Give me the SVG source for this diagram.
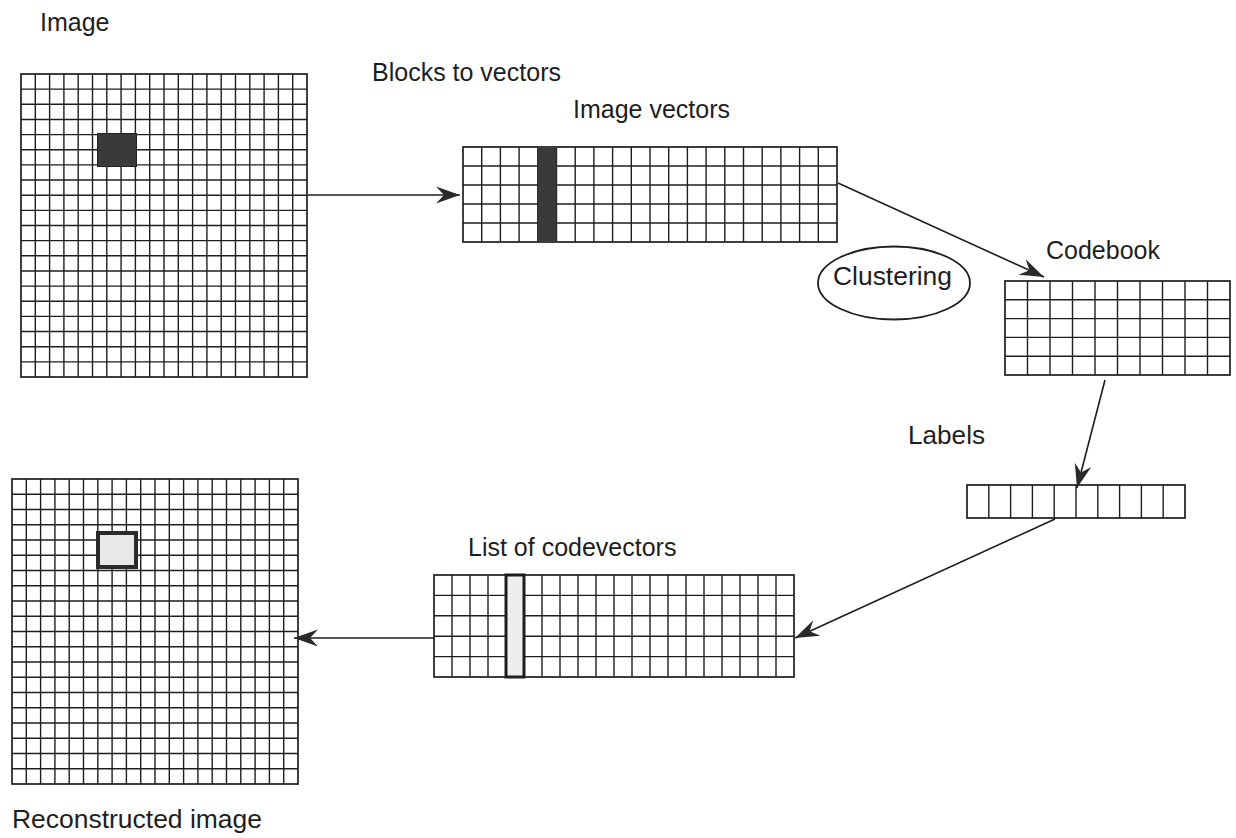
<svg xmlns="http://www.w3.org/2000/svg" width="1236" height="838" viewBox="0 0 1236 838">
<style>
  .bg { fill: #ffffff; }
  .grid { fill: none; stroke: #1e1e1e; stroke-width: 1.4; }
  .frame { fill: none; stroke: #1e1e1e; stroke-width: 1.7; }
  .lbl { font-family: "Liberation Sans", Arial, sans-serif; font-size: 25px; fill: #1e1e1e; }
  .conn { fill: none; stroke: #1e1e1e; stroke-width: 1.6; }
  .ell { fill: none; stroke: #1e1e1e; stroke-width: 1.8; }
</style>
<defs>
  <marker id="arr" markerUnits="userSpaceOnUse" orient="auto" refX="0" refY="0" markerWidth="30" markerHeight="30" overflow="visible">
    <path d="M0,0 L-24,-8.5 L-16,0 L-24,8.5 Z" fill="#2a2a2a"/>
  </marker>
</defs>
<rect class="bg" x="0" y="0" width="1236" height="838"/>

<g id="image">
  <text class="lbl" x="40" y="31">Image</text>
  <rect class="frame" x="21" y="74" width="286" height="303"/>
  <path class="grid" d="M35.3,74 v303 m14.3,-303 v303 m14.3,-303 v303 m14.3,-303 v303 m14.3,-303 v303 m14.3,-303 v303 m14.3,-303 v303 m14.3,-303 v303 m14.3,-303 v303 m14.3,-303 v303 m14.3,-303 v303 m14.3,-303 v303 m14.3,-303 v303 m14.3,-303 v303 m14.3,-303 v303 m14.3,-303 v303 m14.3,-303 v303 m14.3,-303 v303 m14.3,-303 v303"/>
  <path class="grid" d="M21,89.15 h286 m-286,15.15 h286 m-286,15.15 h286 m-286,15.15 h286 m-286,15.15 h286 m-286,15.15 h286 m-286,15.15 h286 m-286,15.15 h286 m-286,15.15 h286 m-286,15.15 h286 m-286,15.15 h286 m-286,15.15 h286 m-286,15.15 h286 m-286,15.15 h286 m-286,15.15 h286 m-286,15.15 h286 m-286,15.15 h286 m-286,15.15 h286 m-286,15.15 h286"/>
  <rect x="97.5" y="133.5" width="39" height="33" fill="#3a3a3a" stroke="#222" stroke-width="1"/>
</g>

<g id="image-vectors">
  <text class="lbl" x="573" y="118">Image vectors</text>
  <rect class="frame" x="463" y="147" width="374" height="95"/>
  <path class="grid" d="M481.7,147 v95 m18.7,-95 v95 m18.7,-95 v95 m18.7,-95 v95 m18.7,-95 v95 m18.7,-95 v95 m18.7,-95 v95 m18.7,-95 v95 m18.7,-95 v95 m18.7,-95 v95 m18.7,-95 v95 m18.7,-95 v95 m18.7,-95 v95 m18.7,-95 v95 m18.7,-95 v95 m18.7,-95 v95 m18.7,-95 v95 m18.7,-95 v95 m18.7,-95 v95"/>
  <path class="grid" d="M463,166 h374 m-374,19 h374 m-374,19 h374 m-374,19 h374"/>
  <rect x="537.8" y="147" width="18.7" height="95" fill="#3a3a3a"/>
</g>

<g id="blocks-label">
  <text class="lbl" x="372" y="81">Blocks to vectors</text>
</g>

<g id="clustering">
  <ellipse class="ell" cx="894" cy="283" rx="76" ry="36.5"/>
  <text class="lbl" x="833" y="285" textLength="119" lengthAdjust="spacingAndGlyphs">Clustering</text>
</g>

<g id="codebook">
  <text class="lbl" x="1046" y="259">Codebook</text>
  <rect class="frame" x="1005" y="281" width="225" height="94"/>
  <path class="grid" d="M1027.5,281 v94 m22.5,-94 v94 m22.5,-94 v94 m22.5,-94 v94 m22.5,-94 v94 m22.5,-94 v94 m22.5,-94 v94 m22.5,-94 v94 m22.5,-94 v94"/>
  <path class="grid" d="M1005,299.8 h225 m-225,18.8 h225 m-225,18.8 h225 m-225,18.8 h225"/>
</g>

<g id="labels">
  <text class="lbl" x="908" y="444" textLength="77" lengthAdjust="spacingAndGlyphs">Labels</text>
  <rect class="frame" x="967" y="485" width="218" height="33"/>
  <path class="grid" d="M988.8,485 v33 m21.8,-33 v33 m21.8,-33 v33 m21.8,-33 v33 m21.8,-33 v33 m21.8,-33 v33 m21.8,-33 v33 m21.8,-33 v33 m21.8,-33 v33"/>
</g>

<g id="codevectors">
  <text class="lbl" x="468" y="556">List of codevectors</text>
  <rect class="frame" x="434" y="575" width="360" height="102"/>
  <path class="grid" d="M452,575 v102 m18,-102 v102 m18,-102 v102 m18,-102 v102 m18,-102 v102 m18,-102 v102 m18,-102 v102 m18,-102 v102 m18,-102 v102 m18,-102 v102 m18,-102 v102 m18,-102 v102 m18,-102 v102 m18,-102 v102 m18,-102 v102 m18,-102 v102 m18,-102 v102 m18,-102 v102 m18,-102 v102"/>
  <path class="grid" d="M434,595.4 h360 m-360,20.4 h360 m-360,20.4 h360 m-360,20.4 h360"/>
  <rect x="506" y="575" width="18" height="102" fill="#eeeeee" stroke="#1e1e1e" stroke-width="3"/>
</g>

<g id="reconstructed">
  <rect class="frame" x="12" y="479" width="286" height="305"/>
  <path class="grid" d="M26.3,479 v305 m14.3,-305 v305 m14.3,-305 v305 m14.3,-305 v305 m14.3,-305 v305 m14.3,-305 v305 m14.3,-305 v305 m14.3,-305 v305 m14.3,-305 v305 m14.3,-305 v305 m14.3,-305 v305 m14.3,-305 v305 m14.3,-305 v305 m14.3,-305 v305 m14.3,-305 v305 m14.3,-305 v305 m14.3,-305 v305 m14.3,-305 v305 m14.3,-305 v305"/>
  <path class="grid" d="M12,494.25 h286 m-286,15.25 h286 m-286,15.25 h286 m-286,15.25 h286 m-286,15.25 h286 m-286,15.25 h286 m-286,15.25 h286 m-286,15.25 h286 m-286,15.25 h286 m-286,15.25 h286 m-286,15.25 h286 m-286,15.25 h286 m-286,15.25 h286 m-286,15.25 h286 m-286,15.25 h286 m-286,15.25 h286 m-286,15.25 h286 m-286,15.25 h286 m-286,15.25 h286"/>
  <rect x="98" y="533" width="38" height="34" fill="#e8e8e8" stroke="#2a2a2a" stroke-width="4"/>
  <text class="lbl" x="12" y="828" textLength="250" lengthAdjust="spacingAndGlyphs">Reconstructed image</text>
</g>

<g id="connectors">
  <path class="conn" d="M308,195 L460,195" marker-end="url(#arr)"/>
  <path class="conn" d="M838,183 L1044,277" marker-end="url(#arr)"/>
  <path class="conn" d="M1105,380 L1077,488" marker-end="url(#arr)"/>
  <path class="conn" d="M1055,519 L795,638" marker-end="url(#arr)"/>
  <path class="conn" d="M434,638 L294,638" marker-end="url(#arr)"/>
</g>
</svg>
